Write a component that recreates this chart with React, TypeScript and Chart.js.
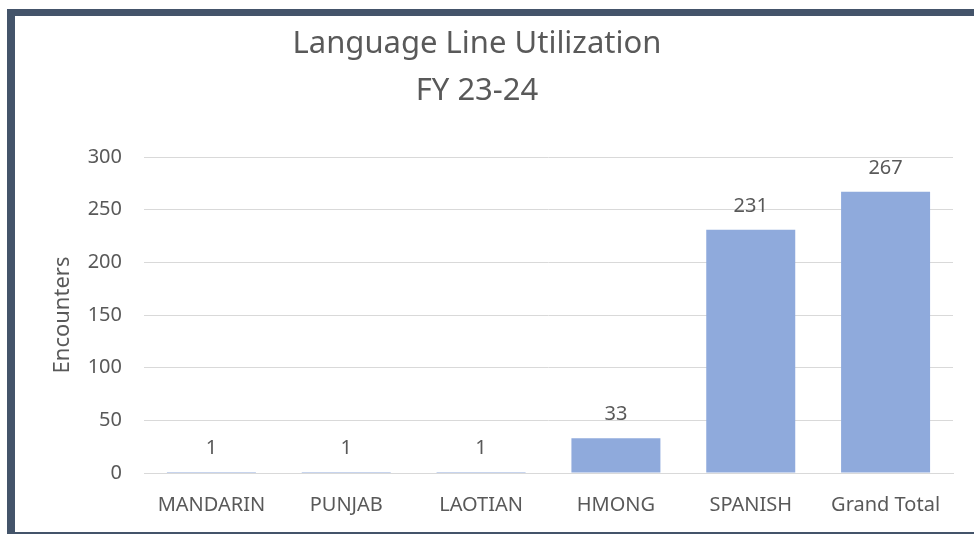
import React, { useEffect, useRef } from "react";
import { Chart, registerables } from "chart.js";

Chart.register(...registerables);

const categories = ["MANDARIN", "PUNJAB", "LAOTIAN", "HMONG", "SPANISH", "Grand Total"];
const encounters = [1, 1, 1, 33, 231, 267];
const titleLines = ["Language Line Utilization", "FY 23-24"];
const yAxisTitle = "Encounters";
const yTicks = [0, 50, 100, 150, 200, 250, 300];

const TEXT = "#595959";
const FONT = "'Noto Sans', sans-serif";

const titlePlugin = {
  id: "customTitle",
  afterDraw(chart: any) {
    const ctx = chart.ctx;
    ctx.save();
    ctx.fillStyle = TEXT;
    ctx.font = `31px ${FONT}`;
    ctx.textAlign = "center";
    ctx.textBaseline = "alphabetic";
    ctx.fillText(titleLines[0], 462, 37);
    ctx.fillText(titleLines[1], 462, 84);
    ctx.restore();
  },
};

const valueLabels = {
  id: "valueLabels",
  afterDatasetsDraw(chart: any) {
    const ctx = chart.ctx;
    const meta = chart.getDatasetMeta(0);
    ctx.save();
    ctx.fillStyle = TEXT;
    ctx.font = `20px ${FONT}`;
    ctx.textAlign = "center";
    ctx.textBaseline = "alphabetic";
    meta.data.forEach((bar: any, i: number) => {
      ctx.fillText(String(encounters[i]), bar.x, bar.y - 18);
    });
    ctx.restore();
  },
};

export default function App() {
  const ref = useRef<HTMLCanvasElement>(null);
  useEffect(() => {
    if (!ref.current) return;
    const chart = new Chart(ref.current, {
      type: "bar",
      data: {
        labels: categories,
        datasets: [
          {
            data: encounters,
            backgroundColor: "#8FAADC",
            borderWidth: 0,
            categoryPercentage: 1,
            barPercentage: 0.66,
          },
        ],
      },
      options: {
        animation: false,
        responsive: true,
        maintainAspectRatio: false,
        layout: { padding: { top: 141, right: 21, left: 0, bottom: 0 } },
        plugins: {
          legend: { display: false },
          title: { display: false },
          tooltip: { enabled: false },
        },
        scales: {
          x: {
            grid: { display: false, drawTicks: false },
            border: { display: true, color: "#D9D9D9", width: 1 },
            ticks: { color: TEXT, font: { family: FONT, size: 20 }, padding: 20, maxRotation: 0, autoSkip: false },
            afterFit(scale: any) {
              scale.height = 59;
            },
          },
          y: {
            min: 0,
            max: 300,
            afterBuildTicks(scale: any) {
              scale.ticks = yTicks.map((v) => ({ value: v }));
            },
            grid: { color: "#D9D9D9", lineWidth: 1, drawTicks: false },
            border: { display: false },
            ticks: { color: TEXT, font: { family: FONT, size: 20 }, padding: 22 },
            title: {
              display: true,
              text: yAxisTitle,
              color: TEXT,
              font: { family: FONT, size: 22 },
              padding: { top: 35, bottom: 0 },
            },
            afterFit(scale: any) {
              scale.width = 129;
            },
          },
        },
      },
      plugins: [titlePlugin, valueLabels],
    });
    return () => chart.destroy();
  }, []);

  return (
    <div
      style={{
        position: "fixed",
        left: 7,
        top: 9,
        width: 967,
        height: 525,
        boxSizing: "border-box",
        borderLeft: "8px solid #44546A",
        borderTop: "7px solid #44546A",
        borderBottom: "2px solid #44546A",
        background: "#FFFFFF",
      }}
    >
      <div style={{ position: "relative", width: 959, height: 516 }}>
        <canvas ref={ref} />
      </div>
    </div>
  );
}
